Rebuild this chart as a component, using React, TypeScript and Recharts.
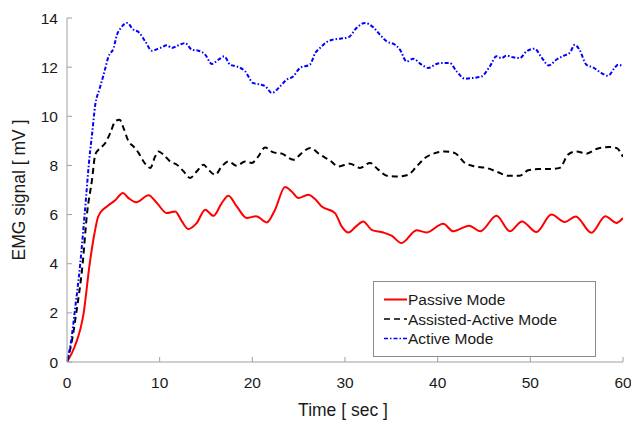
import React from 'react';
import { LineChart, Line, XAxis, YAxis } from 'recharts';

// Axis ticks
const xTicks = [0, 10, 20, 30, 40, 50, 60];
const yTicks = [0, 2, 4, 6, 8, 10, 12, 14];

// Passive Mode (red, solid)
const passiveT = [
  0, 0.8, 1.8, 2.45, 2.95,
  3.35, 3.6, 4.31, 5.2, 6.03,
  6.64, 7.47, 8.8, 9.7, 10.78,
  11.67, 12.4, 13.1, 14.01, 14.91,
  15.8, 16.7, 17.42, 18.32, 19.4,
  20.4, 21.56, 22.45, 23.53, 24.25,
  24.97, 26.04, 26.77, 27.49, 28.92,
  29.64, 30.35, 31.19, 31.97, 32.88,
  34.13, 35.03, 36.1, 37.73, 38.8,
  40.6, 41.67, 43.4, 44.6, 46.35,
  47.79, 49.1, 50.66, 52.28, 53.71,
  54.9, 56.59, 58.1, 59.28, 60,
];
const passiveV = [
  0, 0.6, 2, 4, 5.2,
  5.9, 6.08, 6.33, 6.58, 6.88,
  6.67, 6.5, 6.79, 6.47, 6.06,
  6.13, 5.72, 5.41, 5.66, 6.2,
  5.95, 6.47, 6.77, 6.33, 5.86,
  5.93, 5.68, 6.2, 7.12, 6.94,
  6.67, 6.81, 6.63, 6.33, 6.06,
  5.52, 5.27, 5.52, 5.72, 5.38,
  5.27, 5.14, 4.84, 5.36, 5.27,
  5.63, 5.32, 5.55, 5.32, 5.95,
  5.32, 5.72, 5.29, 6.0, 5.7,
  5.92, 5.26, 5.93, 5.66, 5.86,
];

// Assisted-Active Mode (black, dashed)
const assistedT = [
  0, 0.5, 1.0, 1.69, 2.15,
  2.7, 3.05, 3.4, 4.13, 4.67,
  5.2, 5.67, 6.1, 6.64, 7.18,
  7.72, 8.26, 8.98, 9.52, 9.87,
  10.41, 11.13, 11.86, 12.57, 13.29,
  14.01, 14.73, 15.26, 15.99, 16.7,
  17.42, 18.32, 19.22, 19.94, 20.65,
  21.38, 22.27, 23.18, 24.43, 25.33,
  26.23, 27.3, 28.38, 29.28, 30.54,
  31.62, 32.7, 33.59, 34.5, 35.74,
  36.82, 37.73, 38.62, 39.7, 40.78,
  41.86, 42.93, 44.01, 45.27, 46.52,
  47.6, 48.86, 49.76, 50.84, 52.1,
  53.18, 54.07, 54.97, 56.05, 57.13,
  58.56, 59.3, 60,
];
const assistedV = [
  0, 0.8, 2, 4, 6,
  7.42, 8.44, 8.64, 8.91, 9.32,
  9.79, 9.86, 9.52, 8.98, 8.77,
  8.51, 8.16, 7.9, 8.37, 8.57,
  8.44, 8.16, 8.03, 7.76, 7.49,
  7.76, 8.03, 7.83, 7.62, 7.96,
  8.16, 7.99, 8.16, 8.1, 8.37,
  8.73, 8.53, 8.48, 8.23, 8.5,
  8.71, 8.44, 8.2, 7.96, 8.07,
  7.9, 8.1, 7.83, 7.58, 7.55,
  7.62, 7.96, 8.3, 8.5, 8.57,
  8.5, 8.1, 7.96, 7.9, 7.72,
  7.58, 7.58, 7.8, 7.85, 7.85,
  7.9, 8.44, 8.57, 8.48, 8.67,
  8.75, 8.71, 8.35,
];

// Active Mode (blue, dash-dot)
const activeT = [
  0, 0.5, 0.82, 1.43, 1.9,
  2.5, 2.7, 3.05, 3.5, 3.95,
  4.49, 5.03, 5.39, 5.75, 6.47,
  7.18, 7.72, 8.44, 9.16, 10.06,
  10.78, 11.32, 12.03, 12.75, 13.47,
  14.19, 14.91, 15.63, 16.34, 16.96,
  17.6, 18.32, 19.22, 20.1, 20.65,
  21.4, 22.1, 23.0, 23.7, 24.4,
  25.15, 26.2, 26.8, 27.3, 28.0,
  28.7, 29.5, 30.35, 31.26, 32.16,
  33.05, 33.77, 34.5, 35.4, 35.93,
  36.65, 37.36, 38.27, 38.98, 39.88,
  40.6, 41.3, 42.04, 42.93, 43.83,
  44.73, 45.63, 46.35, 46.89, 47.43,
  48.14, 48.86, 49.58, 50.48, 51.2,
  52.0, 52.8, 53.7, 54.25, 54.8,
  55.3, 56.05, 56.76, 57.67, 58.38,
  59.1, 59.46, 60,
];
const activeV = [
  0, 1.0, 2, 4, 6,
  8.6, 9.25, 10.47, 11.1, 11.69,
  12.44, 12.78, 13.32, 13.56, 13.8,
  13.52, 13.43, 13.05, 12.67, 12.78,
  12.89, 12.78, 12.89, 12.98, 12.71,
  12.67, 12.51, 12.13, 12.3, 12.44,
  12.1, 12.03, 11.83, 11.35, 11.31,
  11.22, 10.95, 11.22, 11.49, 11.62,
  11.97, 12.1, 12.58, 12.78, 13.02,
  13.12, 13.16, 13.21, 13.6, 13.8,
  13.62, 13.32, 13.05, 12.91, 12.71,
  12.23, 12.34, 12.1, 11.97, 12.13,
  12.17, 12.17, 11.83, 11.53, 11.56,
  11.62, 12.03, 12.44, 12.37, 12.47,
  12.4, 12.37, 12.64, 12.75, 12.4,
  12.07, 12.3, 12.48, 12.58, 12.91,
  12.71, 12.1, 11.99, 11.76, 11.65,
  11.97, 12.1, 12.03,
];

const toPoints = (t: number[], v: number[]) => t.map((x, i) => ({ t: x, v: v[i] }));

const FONT = '"Liberation Sans", Arial, sans-serif';
const AXIS = '#a0a0a0';
const TICK_LEN = 5;

const series = [
  { name: 'Passive Mode', color: '#ff0000', dash: undefined, data: toPoints(passiveT, passiveV) },
  { name: 'Assisted-Active Mode', color: '#000000', dash: '6 4', data: toPoints(assistedT, assistedV) },
  { name: 'Active Mode', color: '#0000ff', dash: '4 2 1.5 2', data: toPoints(activeT, activeV) },
];

const BottomTick = (props: any) => {
  const { x, y, payload } = props;
  return (
    <g>
      <line x1={x} y1={y} x2={x} y2={y - TICK_LEN} stroke={AXIS} />
      <text x={x} y={y + 26} textAnchor="middle" fontSize={15.5} fill="#1a1a1a" fontFamily={FONT}>
        {payload.value}
      </text>
    </g>
  );
};

const LeftTick = (props: any) => {
  const { x, y, payload } = props;
  return (
    <g>
      <line x1={x} y1={y} x2={x + TICK_LEN} y2={y} stroke={AXIS} />
      <text x={x - 9} y={y + 5.5} textAnchor="end" fontSize={15.5} fill="#1a1a1a" fontFamily={FONT}>
        {payload.value}
      </text>
    </g>
  );
};

const TopTick = (props: any) => {
  const { x, y } = props;
  return <line x1={x} y1={y} x2={x} y2={y + TICK_LEN} stroke={AXIS} />;
};

const RightTick = (props: any) => {
  const { x, y } = props;
  return <line x1={x} y1={y} x2={x - TICK_LEN} y2={y} stroke={AXIS} />;
};

export default function App() {
  return (
    <div style={{ position: 'absolute', left: 0, top: 0, width: 631, height: 421, background: '#fff' }}>
      <LineChart
        width={631}
        height={421}
        margin={{ top: 18, right: 8, bottom: 0, left: 0 }}
        style={{ fontFamily: FONT }}
      >
        <XAxis
          dataKey="t"
          type="number"
          domain={[0, 60]}
          ticks={xTicks}
          allowDataOverflow
          height={59}
          tickSize={0}
          tickMargin={0}
          tickLine={false}
          axisLine={{ stroke: AXIS }}
          tick={<BottomTick />}
        />
        <XAxis
          xAxisId="top"
          orientation="top"
          type="number"
          domain={[0, 60]}
          ticks={xTicks}
          allowDataOverflow
          height={0}
          tickSize={0}
          tickLine={false}
          axisLine={{ stroke: AXIS }}
          tick={<TopTick />}
        />
        <YAxis
          type="number"
          domain={[0, 14]}
          ticks={yTicks}
          allowDataOverflow
          width={67}
          tickSize={0}
          tickMargin={0}
          tickLine={false}
          axisLine={{ stroke: AXIS }}
          tick={<LeftTick />}
        />
        <YAxis
          yAxisId="right"
          orientation="right"
          type="number"
          domain={[0, 14]}
          ticks={yTicks}
          allowDataOverflow
          width={0}
          tickSize={0}
          tickLine={false}
          axisLine={{ stroke: AXIS }}
          tick={<RightTick />}
        />
        {series.map((s) => (
          <Line
            key={s.name}
            data={s.data}
            dataKey="v"
            name={s.name}
            type="monotone"
            stroke={s.color}
            strokeWidth={2}
            strokeDasharray={s.dash}
            dot={false}
            activeDot={false}
            isAnimationActive={false}
          />
        ))}
      </LineChart>

      {/* axis titles */}
      <svg
        width={631}
        height={421}
        style={{ position: 'absolute', left: 0, top: 0, pointerEvents: 'none' }}
      >
        <text x={343} y={416} textAnchor="middle" fontSize={17.5} fill="#1a1a1a" fontFamily={FONT}>
          Time [ sec ]
        </text>
        <text
          transform="translate(25,190) rotate(-90)"
          textAnchor="middle"
          fontSize={17.5}
          fill="#1a1a1a"
          fontFamily={FONT}
        >
          EMG signal [ mV ]
        </text>
      </svg>

      {/* legend box */}
      <svg
        width={223}
        height={76}
        style={{ position: 'absolute', left: 373, top: 281, background: '#fff' }}
      >
        <rect x={0.5} y={0.5} width={222} height={75} fill="#fff" stroke="#8c8c8c" />
        {series.map((s, i) => {
          const cy = 18.5 + i * 19.5;
          return (
            <g key={s.name}>
              <line x1={11} y1={cy} x2={34} y2={cy} stroke={s.color} strokeWidth={s.dash ? 1.3 : 2} strokeDasharray={s.dash} />
              <text x={35} y={cy + 5.5} fontSize={15.5} fill="#1a1a1a" fontFamily={FONT}>
                {s.name}
              </text>
            </g>
          );
        })}
      </svg>
    </div>
  );
}
